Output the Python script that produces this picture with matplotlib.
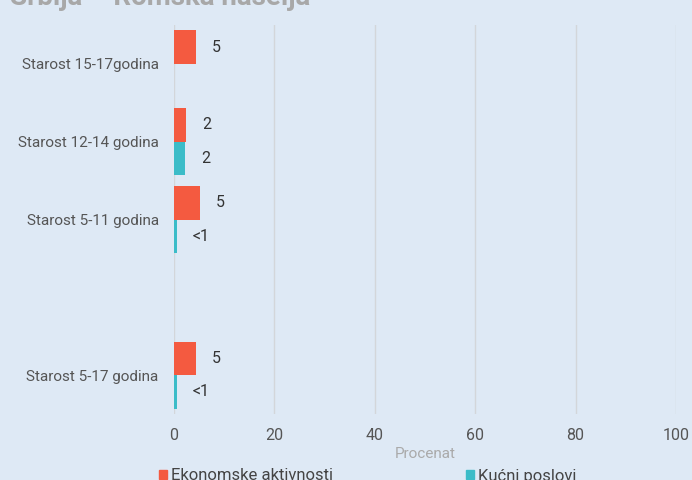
import matplotlib
matplotlib.use("Agg")
import matplotlib.pyplot as plt
import numpy as np

categories = ["Starost 15-17godina", "Starost 12-14 godina", "Starost 5-11 godina", "", "Starost 5-17 godina"]
econ_values = [4.4, 2.4, 5.2, np.nan, 4.4]
home_values = [np.nan, 2.2, 0.5, np.nan, 0.6]
econ_labels = ["5", "2", "5", "", "5"]
home_labels = ["", "2", "<1", "", "<1"]
series_names = ["Ekonomske aktivnosti", "Kućni poslovi"]
xticks = [0, 20, 40, 60, 80, 100]

BG = "#DEE9F5"
RED = "#F45A40"
CYAN = "#3BBCC8"
plt.rcParams['font.family'] = ['Roboto', 'DejaVu Sans']

fig = plt.figure(figsize=(6.92, 4.8), dpi=100, facecolor=BG)
ax = fig.add_axes([174/692, 1-414/480, (676-174)/692, (414-25)/480])
ax.set_facecolor(BG)

y = np.arange(len(categories))
h = 0.43
ax.barh(y - h/2, econ_values, height=h, color=RED, zorder=3)
ax.barh(y + h/2, home_values, height=h, color=CYAN, zorder=3)

for yi, v, lab in zip(y, econ_values, econ_labels):
    if lab:
        ax.annotate(lab, (v, yi - h/2), xytext=(11.5, 0), textcoords="offset points",
                    va="center", ha="left", fontsize=11.5, color="#333333")
for yi, v, lab in zip(y, home_values, home_labels):
    if lab:
        ax.annotate(lab, (v, yi + h/2), xytext=(11.5, 0), textcoords="offset points",
                    va="center", ha="left", fontsize=11.5, color="#333333")

ax.set_xlim(0, 100)
ax.set_ylim(len(categories) - 0.5, -0.5)
ax.set_xticks(xticks)
ax.set_xticklabels([str(t) for t in xticks])
ax.set_yticks(y)
ax.set_yticklabels(categories)
ax.tick_params(axis="both", length=0, colors="#555555")
ax.tick_params(axis="x", pad=10, labelsize=11.5)
ax.tick_params(axis="y", pad=11, labelsize=11)
for s in ax.spines.values():
    s.set_visible(False)
ax.grid(axis="x", color="#D3D6DA", linewidth=1, zorder=0)
ax.set_axisbelow(True)

ax.set_xlabel("Procenat", color="#AAAAAA", fontsize=11, labelpad=3)

fig.text(10/692, 1 - 5/480, "Srbija – Romska naselja", fontsize=20, fontweight="bold",
         color="#A8A8A8", va="baseline", ha="left")

leg = fig.legend(handles=[plt.Rectangle((0, 0), 1, 1, color=RED), plt.Rectangle((0, 0), 1, 1, color=CYAN)],
                 labels=series_names, loc="center left", bbox_to_anchor=(159/692, 1 - 476/480),
                 ncol=2, frameon=False, fontsize=12, handlelength=0.5, handleheight=0.5,
                 handletextpad=0.2, columnspacing=8.0, labelcolor="#444444",
                 borderpad=0, borderaxespad=0)

fig.savefig("out.png", dpi=100, facecolor=BG)
